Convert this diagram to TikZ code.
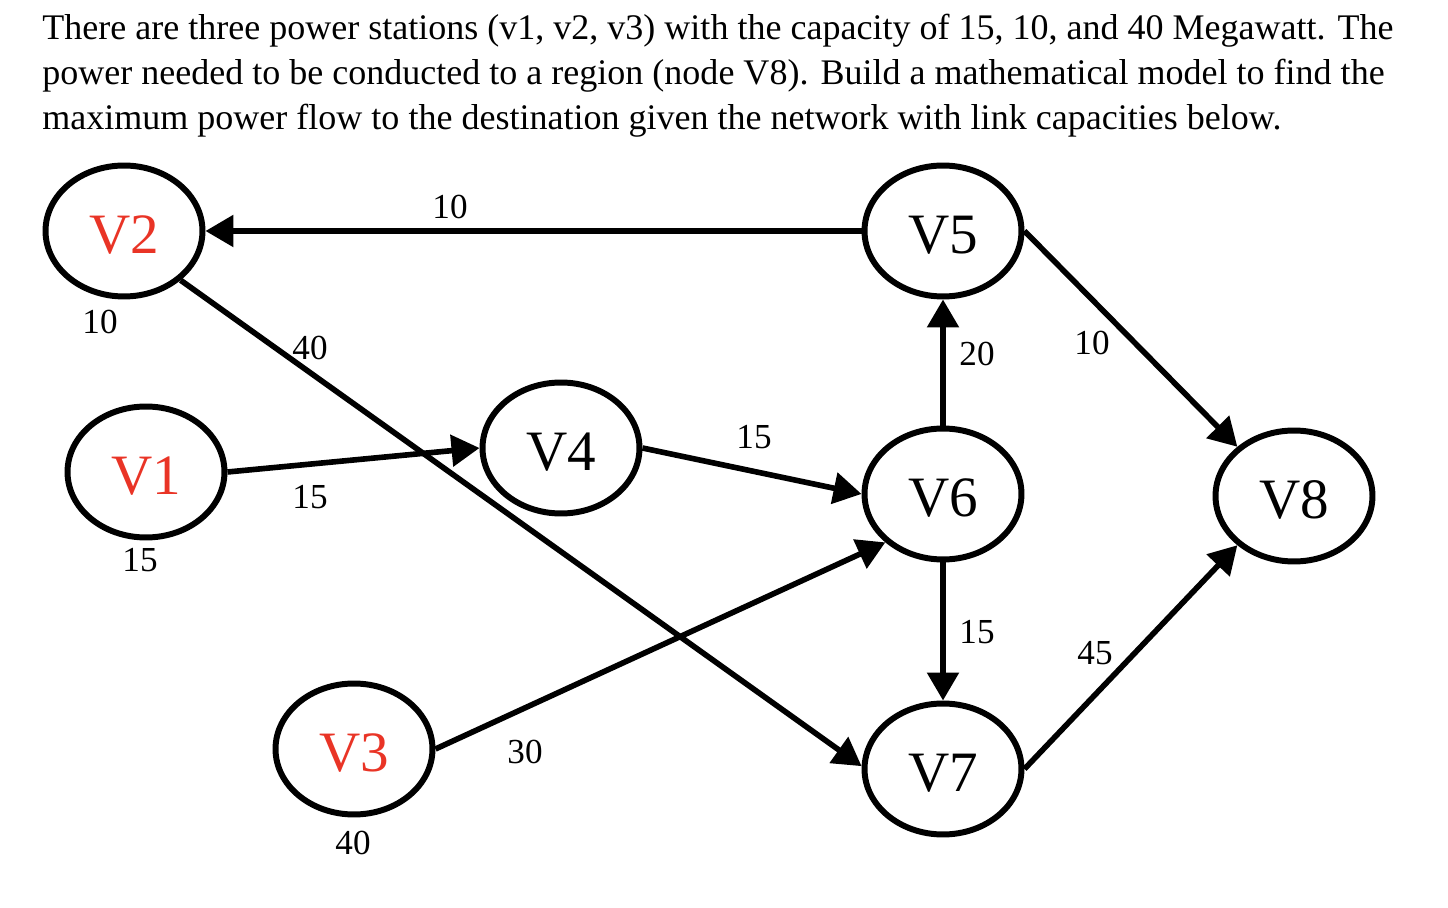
\documentclass[tikz,border=0pt]{standalone}
\usepackage{fontspec}
\setmainfont{Liberation Serif}
\usetikzlibrary{arrows.meta,shapes.geometric}
\definecolor{vred}{RGB}{233,52,38}
\begin{document}
\begin{tikzpicture}[x=0.02cm,y=-0.02cm,
  vnode/.style={ellipse,draw,line width=3.4pt,minimum width=3.14cm,minimum height=2.62cm,inner sep=0pt,
    font=\fontsize{32.5}{38}\selectfont,text height=0.92cm,text depth=0pt},
  src/.style={vnode,text=vred},
  conn/.style={line width=3.2pt,-{Triangle[length=0.56cm,width=0.62cm]}},
  wt/.style={font=\fontsize{20}{24}\selectfont,inner sep=0pt},
  titleline/.style={anchor=base west,inner sep=0pt,font=\fontsize{20.5}{24}\selectfont}]
\useasboundingbox (0,0) rectangle (1448,908);

\node[titleline] (t1) at (42,40) {There are three power stations (v1, v2, v3) with the capacity of 15, 10, and 40 Megawatt. The};
\node[titleline] (t2) at (42,85) {power needed to be conducted to a region (node V8). Build a mathematical model to find the};
\node[titleline] (t3) at (42,130) {maximum power flow to the destination given the network with link capacities below.};

\node[src]   (V2) at (124,231) {V2};
\node[src]   (V1) at (146,472) {V1};
\node[src]   (V3) at (354,749) {V3};
\node[vnode] (V4) at (561,448) {V4};
\node[vnode] (V5) at (943,231) {V5};
\node[vnode] (V6) at (943,494) {V6};
\node[vnode] (V7) at (943,769) {V7};
\node[vnode] (V8) at (1294,496) {V8};

\draw[conn] (V5.west) -- (V2.east);
\draw[conn] (V2.-41) -- (V7.178);
\draw[conn] (V1.east) -- (V4.west);
\draw[conn] (V4.east) -- (V6.west);
\draw[conn] (V3.east) -- (V6.220);
\draw[conn] (V6.north) -- (V5.south);
\draw[conn] (V6.south) -- (V7.north);
\draw[conn] (V5.east) -- (V8.139);
\draw[conn] (V7.east) -- (V8.221);

\node[wt] (w52) at (450,207) {10};
\node[wt] (w27) at (310,348) {40};
\node[wt] (w14) at (310,497) {15};
\node[wt] (w46) at (754,437) {15};
\node[wt] (w36) at (525,752) {30};
\node[wt] (w65) at (977,354) {20};
\node[wt] (w58) at (1092,343) {10};
\node[wt] (w67) at (977,632) {15};
\node[wt] (w78) at (1095,653) {45};
\node[wt] (c2) at (100,322) {10};
\node[wt] (c1) at (140,560) {15};
\node[wt] (c3) at (353,843) {40};
\end{tikzpicture}
\end{document}
